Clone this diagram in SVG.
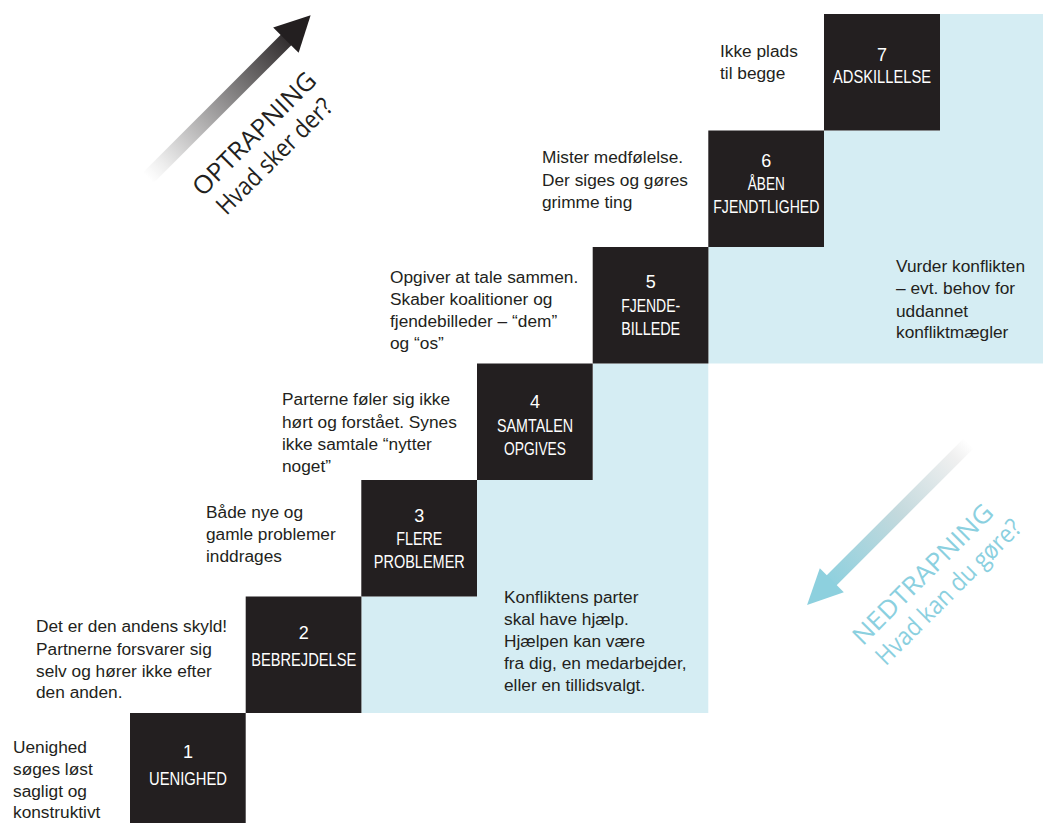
<svg xmlns="http://www.w3.org/2000/svg" width="1043" height="823" viewBox="0 0 1043 823">
<defs>
<style>
.box{fill:#231f20}
.bg{fill:#d5edf3}
.bt{font-family:"Liberation Sans",Arial,sans-serif;font-size:18px;fill:#ffffff;text-anchor:middle}
.tx{font-family:"Liberation Sans",Arial,sans-serif;font-size:17.3px;fill:#231f20}
.up{font-family:"Open Sans","Liberation Sans",sans-serif;font-size:25px;fill:#231f20;text-anchor:middle}
.dn{font-family:"Open Sans","Liberation Sans",sans-serif;font-size:25px;fill:#8bd0df;text-anchor:middle}
</style>
<linearGradient id="gUp" gradientUnits="userSpaceOnUse" x1="0" y1="0" x2="200" y2="0">
<stop offset="0" stop-color="#ffffff"/>
<stop offset="0.1" stop-color="#eeeeee"/>
<stop offset="1" stop-color="#2f2b2c"/>
</linearGradient>
<linearGradient id="gDn" gradientUnits="userSpaceOnUse" x1="0" y1="0" x2="200" y2="0">
<stop offset="0" stop-color="#ffffff"/>
<stop offset="0.1" stop-color="#f0f0f0"/>
<stop offset="0.5" stop-color="#c3d9dd"/>
<stop offset="1" stop-color="#8dd0de"/>
</linearGradient>
</defs>

<g id="background">
<polygon class="bg" points="940,14 1043,14 1043,363.5 708.3,363.5 708.3,247 824,247 824,130.5 940,130.5"/>
<polygon class="bg" points="593,363.5 708.3,363.5 708.3,713 361.3,713 361.3,596.5 477,596.5 477,480 593,480"/>
</g>

<g id="connectors">
<g id="arrow-up" transform="translate(148,178) rotate(-45)">
<rect x="0" y="-7.5" width="197" height="15" fill="url(#gUp)"/>
<polygon points="195,-18 230,0 195,18" fill="#231f20"/>
</g>
<g id="arrow-down" transform="translate(969,443) rotate(135)">
<rect x="0" y="-7" width="197" height="14" fill="url(#gDn)"/>
<polygon points="194,-17 229,0 194,17" fill="#8dd0de"/>
</g>
</g>

<g id="label-optrapning">
<text class="up" transform="translate(254,133.5) rotate(-45)" x="0" y="9" textLength="163" lengthAdjust="spacingAndGlyphs">OPTRAPNING</text>
<text class="up" transform="translate(274,156) rotate(-45)" x="0" y="9" font-size="23" textLength="152" lengthAdjust="spacingAndGlyphs">Hvad sker der?</text>
</g>
<g id="label-nedtrapning">
<text class="dn" transform="translate(922.5,574) rotate(-45)" x="0" y="9" textLength="187" lengthAdjust="spacingAndGlyphs">NEDTRAPNING</text>
<text class="dn" transform="translate(949.5,593) rotate(-45)" x="0" y="7" font-size="23" textLength="194" lengthAdjust="spacingAndGlyphs">Hvad kan du gøre?</text>
</g>

<g id="step1">
<rect class="box" x="130" y="713" width="115.7" height="116"/>
<text class="bt" x="188" y="758">1</text>
<text class="bt" x="188" y="785" textLength="78" lengthAdjust="spacingAndGlyphs">UENIGHED</text>
<text class="tx" x="13" y="753">Uenighed</text>
<text class="tx" x="13" y="775">søges løst</text>
<text class="tx" x="13" y="797">sagligt og</text>
<text class="tx" x="13" y="818">konstruktivt</text>
</g>

<g id="step2">
<rect class="box" x="245.7" y="596.5" width="115.7" height="116.5"/>
<text class="bt" x="303.7" y="639">2</text>
<text class="bt" x="303.7" y="666" textLength="105" lengthAdjust="spacingAndGlyphs">BEBREJDELSE</text>
<text class="tx" x="36" y="632">Det er den andens skyld!</text>
<text class="tx" x="36" y="655">Partnerne forsvarer sig</text>
<text class="tx" x="36" y="677">selv og hører ikke efter</text>
<text class="tx" x="36" y="698">den anden.</text>
</g>

<g id="step3">
<rect class="box" x="361.3" y="480" width="115.7" height="116.5"/>
<text class="bt" x="419.3" y="522">3</text>
<text class="bt" x="419.3" y="545" textLength="46" lengthAdjust="spacingAndGlyphs">FLERE</text>
<text class="bt" x="419.3" y="568" textLength="91" lengthAdjust="spacingAndGlyphs">PROBLEMER</text>
<text class="tx" x="206" y="518">Både nye og</text>
<text class="tx" x="206" y="540">gamle problemer</text>
<text class="tx" x="206" y="562">inddrages</text>
</g>

<g id="step4">
<rect class="box" x="477" y="363.5" width="115.7" height="116.5"/>
<text class="bt" x="535" y="408">4</text>
<text class="bt" x="535" y="432" textLength="76" lengthAdjust="spacingAndGlyphs">SAMTALEN</text>
<text class="bt" x="535" y="455" textLength="62" lengthAdjust="spacingAndGlyphs">OPGIVES</text>
<text class="tx" x="282" y="405">Parterne føler sig ikke</text>
<text class="tx" x="282" y="428">hørt og forstået. Synes</text>
<text class="tx" x="282" y="450">ikke samtale “nytter</text>
<text class="tx" x="282" y="472">noget”</text>
</g>

<g id="step5">
<rect class="box" x="592.7" y="247" width="115.7" height="116.5"/>
<text class="bt" x="650.7" y="288">5</text>
<text class="bt" x="650.7" y="312" textLength="59" lengthAdjust="spacingAndGlyphs">FJENDE-</text>
<text class="bt" x="650.7" y="335" textLength="59" lengthAdjust="spacingAndGlyphs">BILLEDE</text>
<text class="tx" x="390" y="283">Opgiver at tale sammen.</text>
<text class="tx" x="390" y="305">Skaber koalitioner og</text>
<text class="tx" x="390" y="327">fjendebilleder – “dem”</text>
<text class="tx" x="390" y="349">og “os”</text>
</g>

<g id="step6">
<rect class="box" x="708.3" y="130.5" width="115.7" height="116.5"/>
<text class="bt" x="766.3" y="167">6</text>
<text class="bt" x="766.3" y="190" textLength="37" lengthAdjust="spacingAndGlyphs">ÅBEN</text>
<text class="bt" x="766.3" y="213" textLength="106" lengthAdjust="spacingAndGlyphs">FJENDTLIGHED</text>
<text class="tx" x="542" y="163">Mister medfølelse.</text>
<text class="tx" x="542" y="186">Der siges og gøres</text>
<text class="tx" x="542" y="208">grimme ting</text>
</g>

<g id="step7">
<rect class="box" x="824" y="14" width="116" height="116.5"/>
<text class="bt" x="882" y="61">7</text>
<text class="bt" x="882" y="83" textLength="98" lengthAdjust="spacingAndGlyphs">ADSKILLELSE</text>
<text class="tx" x="720" y="57">Ikke plads</text>
<text class="tx" x="720" y="79">til begge</text>
</g>

<g id="note-upper">
<text class="tx" x="896" y="272">Vurder konflikten</text>
<text class="tx" x="896" y="294">– evt. behov for</text>
<text class="tx" x="896" y="317">uddannet</text>
<text class="tx" x="896" y="338">konfliktmægler</text>
</g>

<g id="note-lower">
<text class="tx" x="504" y="603">Konfliktens parter</text>
<text class="tx" x="504" y="625">skal have hjælp.</text>
<text class="tx" x="504" y="647">Hjælpen kan være</text>
<text class="tx" x="504" y="669">fra dig, en medarbejder,</text>
<text class="tx" x="504" y="691">eller en tillidsvalgt.</text>
</g>
</svg>
